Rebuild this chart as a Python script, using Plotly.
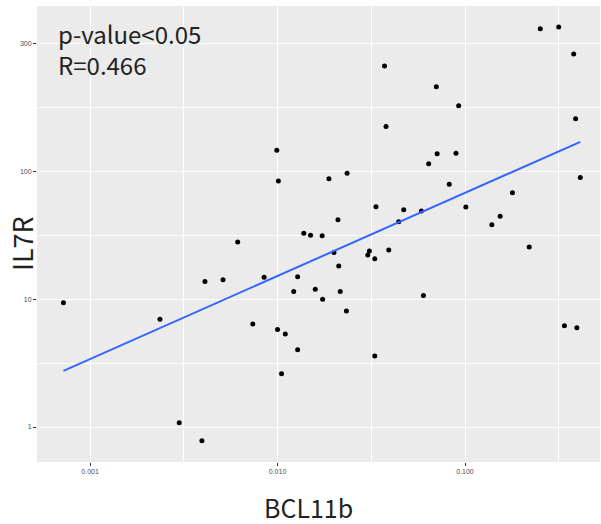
import numpy as np
import plotly.graph_objects as go

# BCL11b (x) and IL7R (y) values
bcl11b = [0.252, 0.316, 0.380, 0.0372, 0.0703, 0.0925, 0.389, 0.0379, 0.0710, 0.0895,
          0.0640, 0.0235, 0.0188, 0.412, 0.0824, 0.179, 0.0335, 0.0471, 0.0585, 0.101,
          0.0210, 0.0443, 0.154, 0.139, 0.0138, 0.0150, 0.0173, 0.220, 0.0200, 0.0309,
          0.0303, 0.0392, 0.0330, 0.00991, 0.0101, 0.00613, 0.0212, 0.0159, 0.0174, 0.0216,
          0.0233, 0.0600, 0.0330, 0.339, 0.395, 0.000721, 0.00236, 0.00410, 0.00512, 0.00848,
          0.0128, 0.0122, 0.00738, 0.0100, 0.0110, 0.0128, 0.0105, 0.00299, 0.00395]
il7r = [1316, 1356, 834, 671, 462, 328, 260, 226, 138, 139,
        115, 97, 88, 90, 79.5, 68.4, 53.1, 50.3, 49.1, 52.8,
        42.0, 40.5, 44.7, 38.4, 32.9, 31.7, 31.5, 25.7, 23.3, 23.9,
        22.2, 24.3, 20.8, 147, 84.4, 28.1, 18.2, 12.0, 10.0, 11.5,
        8.1, 10.7, 3.6, 6.2, 6.0, 9.4, 6.97, 13.8, 14.2, 14.9,
        15.0, 11.5, 6.4, 5.8, 5.35, 4.03, 2.61, 1.08, 0.78]

x_tickvals = [0.001, 0.01, 0.1]
x_ticktext = ["0.001", "0.010", "0.100"]
y_tickvals = [1, 10, 100, 1000]
y_ticktext = ["1", "10", "100", "300"]

stat_lines = ["p-value<0.05", "R=0.466"]
x_title = "BCL11b"
y_title = "IL7R"

# linear fit in log-log space (like geom_smooth(method="lm") with log10 scales)
lx = np.log10(bcl11b)
ly = np.log10(il7r)
slope, intercept = np.polyfit(lx, ly, 1)
fx = np.array([lx.min(), lx.max()])
fy = slope * fx + intercept

fig = go.Figure()
fig.add_trace(go.Scatter(x=bcl11b, y=il7r, mode="markers",
                         marker=dict(color="black", size=5), showlegend=False))
fig.add_trace(go.Scatter(x=10 ** fx, y=10 ** fy, mode="lines",
                         line=dict(color="#3366FF", width=2), showlegend=False))

W, H = 601, 524
L, R, T, B = 37, 1, 6, 62
ph = H - T - B
pw = W - L - R

def py(p):
    return (H - B - p) / ph

def px(p):
    return (p - L) / pw

axis_common = dict(showgrid=True, gridcolor="white", gridwidth=1.1, zeroline=False,
                   ticks="outside", ticklen=3, tickcolor="#333333", tickwidth=1,
                   tickfont=dict(family="Liberation Sans", size=7, color="#4d4d4d"),
                   showline=False)

fig.update_layout(
    width=W, height=H,
    margin=dict(l=L, r=R, t=T, b=B),
    paper_bgcolor="white", plot_bgcolor="#EBEBEB",
    xaxis=dict(type="log", range=[-3.283, -0.280], tickmode="array",
               tickvals=x_tickvals, ticktext=x_ticktext,
               minor=dict(tickmode="array", tickvals=[10 ** -2.5, 10 ** -1.5, 10 ** -0.5],
                          showgrid=True, gridcolor="white", gridwidth=0.5, ticks=""),
               **axis_common),
    yaxis=dict(type="log", range=[-0.274, 3.297], tickmode="array",
               tickvals=y_tickvals, ticktext=y_ticktext,
               minor=dict(tickmode="array", tickvals=[10 ** 0.5, 10 ** 1.5, 10 ** 2.5],
                          showgrid=True, gridcolor="white", gridwidth=0.5, ticks=""),
               **axis_common),
    annotations=[
        dict(text="<br>".join(stat_lines), xref="paper", yref="paper", x=px(56), y=py(49),
             xanchor="left", yanchor="middle", align="left", showarrow=False,
             font=dict(family="Noto Sans CJK JP", size=24, color="#222222")),
        dict(text=x_title, xref="paper", yref="paper", x=px(308), y=py(507),
             xanchor="center", yanchor="middle", showarrow=False,
             font=dict(family="Noto Sans CJK JP", size=25, color="#222222")),
        dict(text=y_title, xref="paper", yref="paper", x=px(22), y=py(244),
             xanchor="center", yanchor="middle", showarrow=False, textangle=-90,
             font=dict(family="Noto Sans CJK JP", size=27, color="#222222")),
    ],
)

fig.write_html("out.html", config={"displayModeBar": False},
               post_script="document.body.style.margin='0';")
